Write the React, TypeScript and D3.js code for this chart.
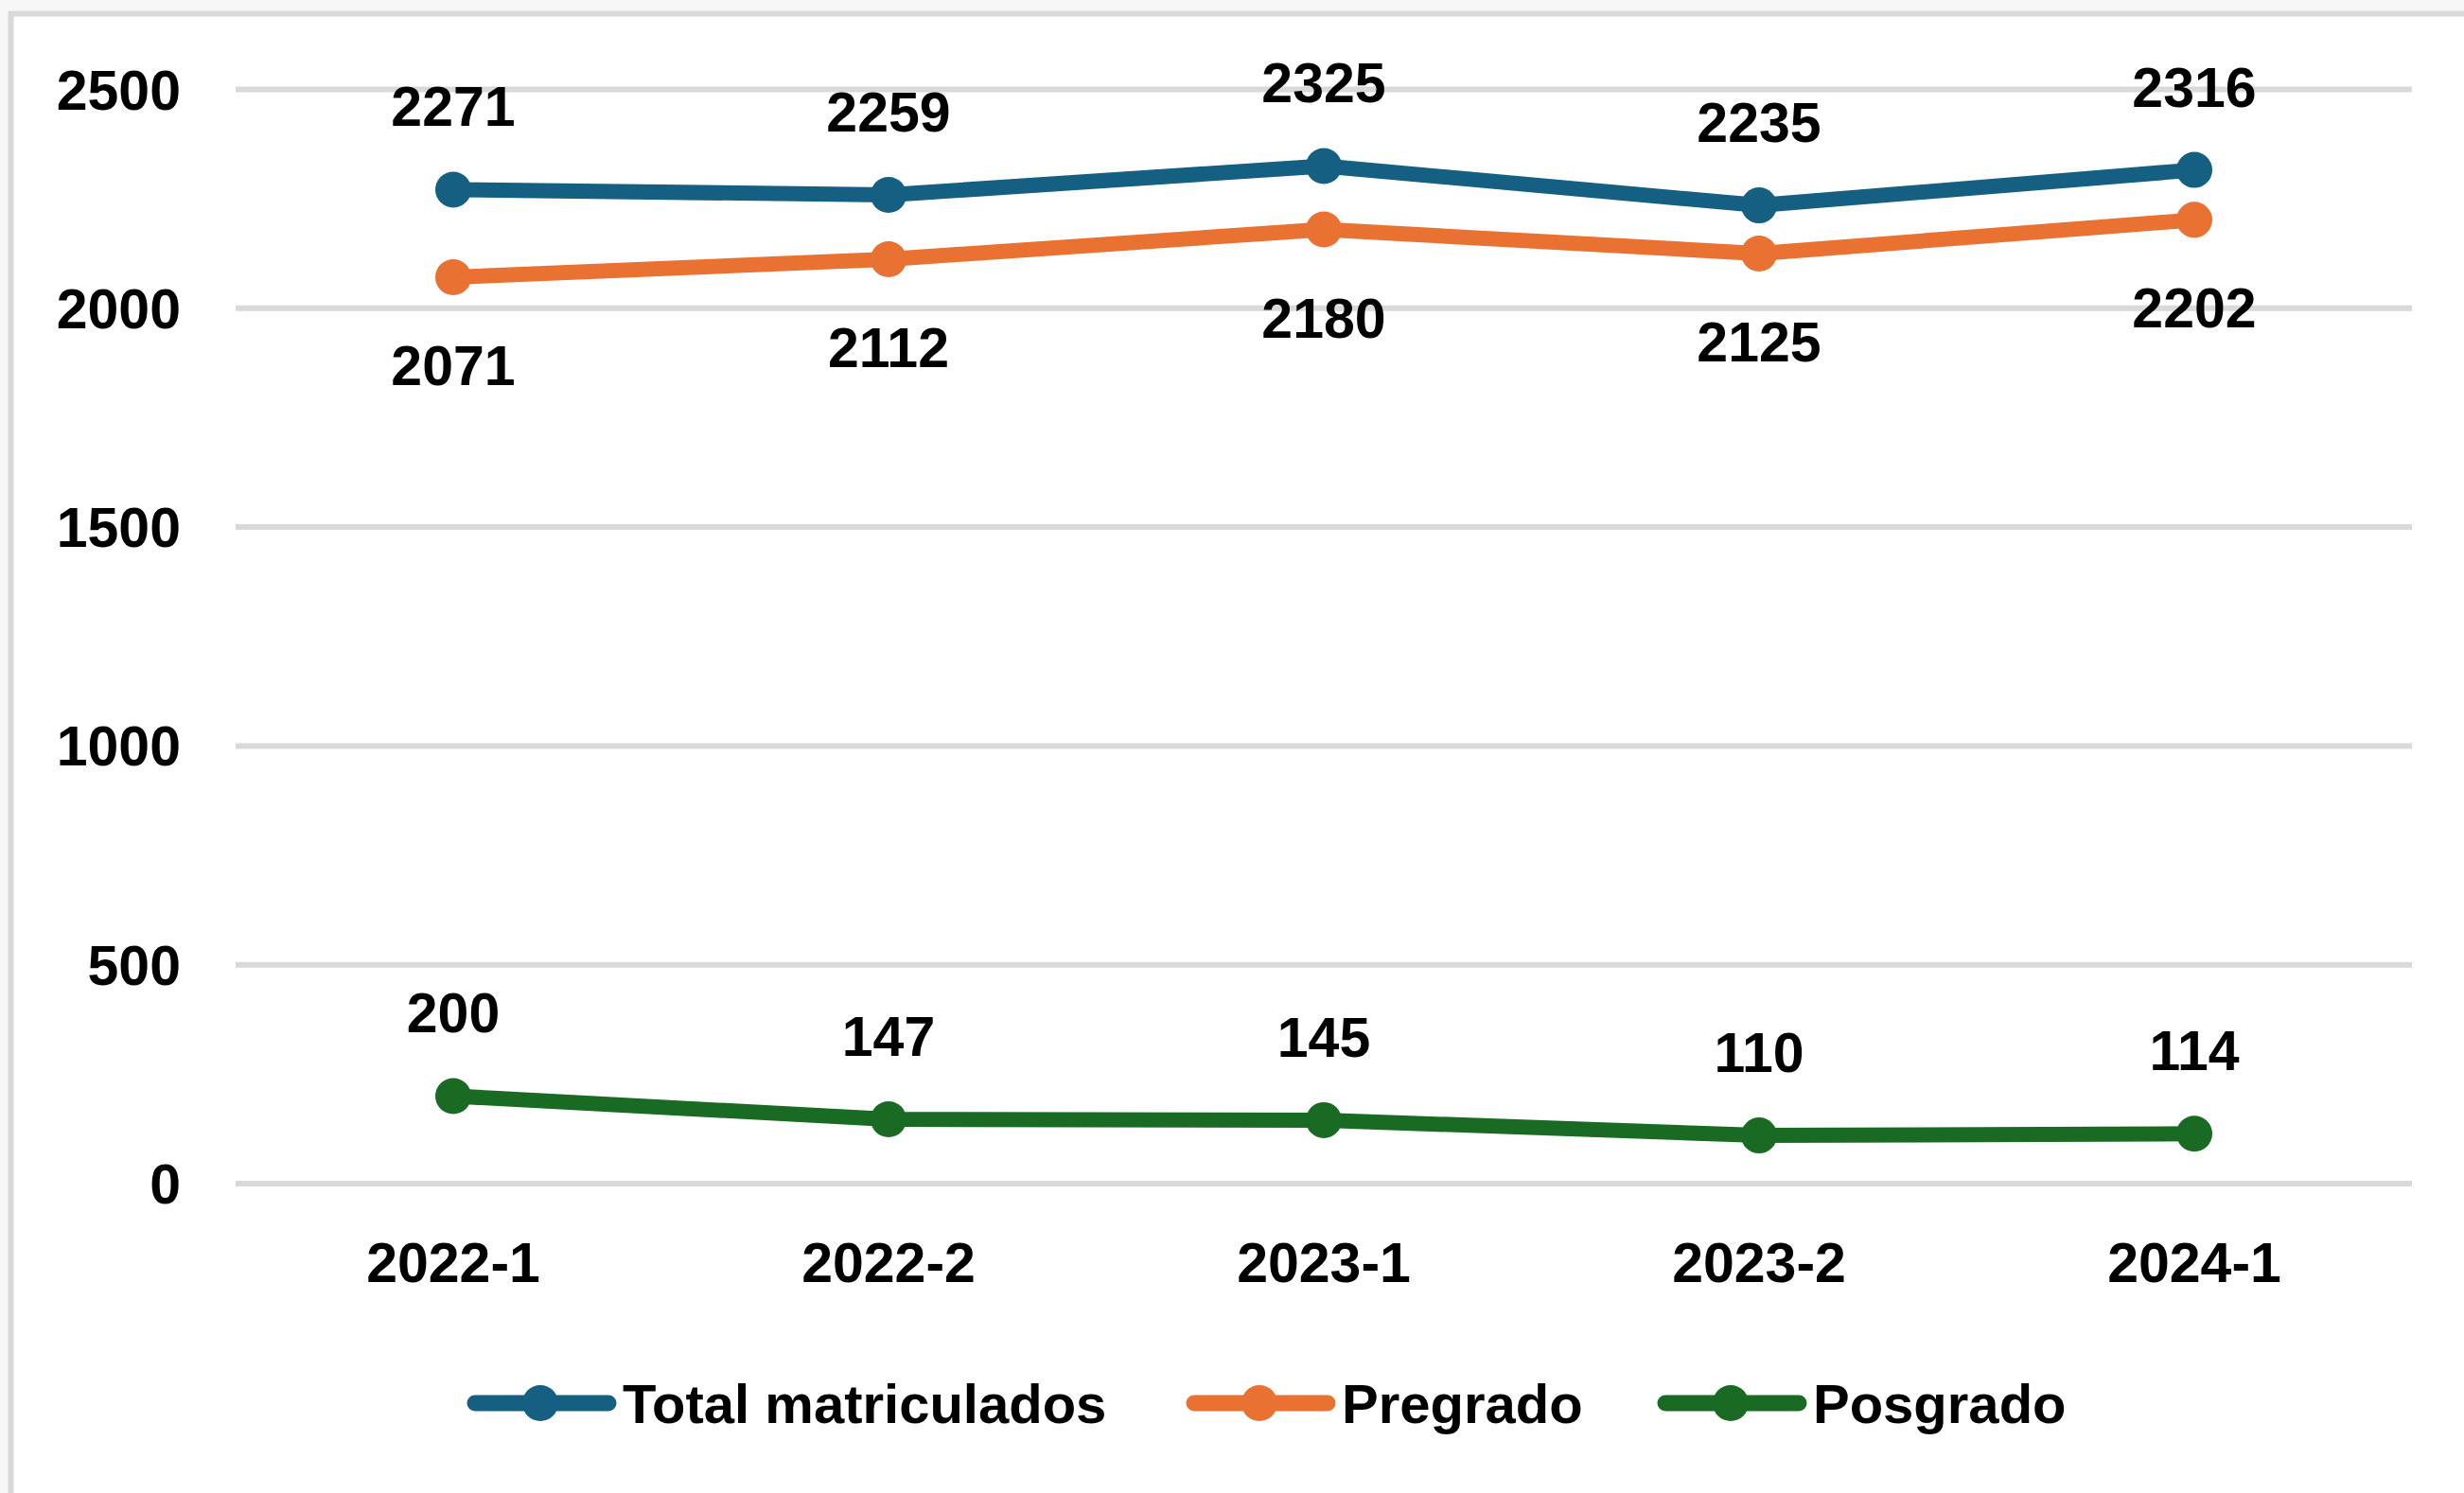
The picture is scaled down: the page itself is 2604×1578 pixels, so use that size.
import React, { useEffect, useRef } from 'react';
import * as d3 from 'd3';

// Chart data
const periods = ['2022-1', '2022-2', '2023-1', '2023-2', '2024-1'];
const totalMatriculados = [2271, 2259, 2325, 2235, 2316];
const pregrado = [2071, 2112, 2180, 2125, 2202];
const posgrado = [200, 147, 145, 110, 114];
const yTicks = [0, 500, 1000, 1500, 2000, 2500];

const series = [
    { name: 'Total matriculados', values: totalMatriculados, color: '#156082', labelPos: 'above' },
    { name: 'Pregrado', values: pregrado, color: '#E97132', labelPos: 'below' },
    { name: 'Posgrado', values: posgrado, color: '#196B24', labelPos: 'above' },
];

const W = 2604;
const H = 1578;
const FONT = '"Liberation Sans", Arial, sans-serif';

const App = () => {
    const svgRef = useRef<SVGSVGElement>(null);

    useEffect(() => {
        const svg = d3.select(svgRef.current);
        svg.selectAll('*').remove();

        // page + chart frame
        svg.append('rect').attr('width', W).attr('height', H).attr('fill', '#f7f7f7');
        svg.append('rect')
            .attr('x', 11.5).attr('y', 14.5)
            .attr('width', W + 100).attr('height', H + 100)
            .attr('fill', '#ffffff')
            .attr('stroke', '#d9d9d9')
            .attr('stroke-width', 6);

        const left = 249;
        const right = 2549;

        const x = d3.scaleBand().domain(periods).range([left, right]);
        const cx = (p: string) => (x(p) as number) + x.bandwidth() / 2;
        const y = d3.scaleLinear().domain([0, 2500]).range([1251, 94.5]);

        // gridlines
        svg.append('g')
            .selectAll('line')
            .data(yTicks)
            .enter()
            .append('line')
            .attr('x1', left).attr('x2', right)
            .attr('y1', d => y(d)).attr('y2', d => y(d))
            .attr('stroke', '#d9d9d9')
            .attr('stroke-width', 6);

        // y tick labels
        svg.append('g')
            .selectAll('text')
            .data(yTicks)
            .enter()
            .append('text')
            .attr('x', 191)
            .attr('y', d => y(d) + 21)
            .attr('text-anchor', 'end')
            .attr('font-family', FONT)
            .attr('font-weight', 'bold')
            .attr('font-size', 59)
            .attr('fill', '#000')
            .text(d => d);

        // x labels
        svg.append('g')
            .selectAll('text')
            .data(periods)
            .enter()
            .append('text')
            .attr('x', d => cx(d))
            .attr('y', 1355)
            .attr('text-anchor', 'middle')
            .attr('font-family', FONT)
            .attr('font-weight', 'bold')
            .attr('font-size', 59)
            .attr('fill', '#000')
            .text(d => d);

        const line = d3.line<number>()
            .x((_, i) => cx(periods[i]))
            .y(d => y(d));

        series.forEach(s => {
            svg.append('path')
                .datum(s.values)
                .attr('fill', 'none')
                .attr('stroke', s.color)
                .attr('stroke-width', 16)
                .attr('stroke-linejoin', 'round')
                .attr('d', line);

            svg.append('g')
                .selectAll('circle')
                .data(s.values)
                .enter()
                .append('circle')
                .attr('cx', (_, i) => cx(periods[i]))
                .attr('cy', d => y(d))
                .attr('r', 19)
                .attr('fill', s.color);

            svg.append('g')
                .selectAll('text')
                .data(s.values)
                .enter()
                .append('text')
                .attr('x', (_, i) => cx(periods[i]))
                .attr('y', d => s.labelPos === 'above' ? y(d) - 67 : y(d) + 114)
                .attr('text-anchor', 'middle')
                .attr('font-family', FONT)
                .attr('font-weight', 'bold')
                .attr('font-size', 59)
                .attr('fill', '#000')
                .text(d => d);
        });

        // legend
        const legendX = [494, 1254, 1752];
        const legendY = 1483;
        series.forEach((s, i) => {
            const g = svg.append('g').attr('transform', `translate(${legendX[i]},${legendY})`);
            g.append('line')
                .attr('x1', 8).attr('x2', 149)
                .attr('y1', 0).attr('y2', 0)
                .attr('stroke', s.color)
                .attr('stroke-width', 17)
                .attr('stroke-linecap', 'round');
            g.append('circle')
                .attr('cx', 77).attr('cy', 0).attr('r', 19)
                .attr('fill', s.color);
            g.append('text')
                .attr('x', 164)
                .attr('y', 21)
                .attr('font-family', FONT)
                .attr('font-weight', 'bold')
                .attr('font-size', 58)
                .attr('fill', '#000')
                .text(s.name);
        });
    }, []);

    return (
        <svg
            ref={svgRef}
            width={W}
            height={H}
            style={{ position: 'absolute', left: 0, top: 0, display: 'block' }}
        />
    );
};

export default App;
